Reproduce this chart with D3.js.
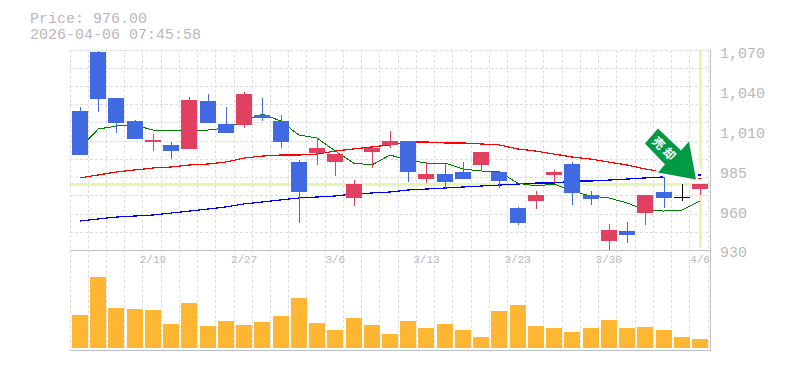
<!DOCTYPE html>
<html>
<head>
<meta charset="utf-8">
<style>
body { margin: 0; background: #fff; }
svg { display: block; }
text { font-family: "Liberation Mono", monospace; fill: #b8b8b8; }
</style>
<script src="https://cdn.jsdelivr.net/npm/d3@7"></script>
</head>
<body>
<div id="chart"></div>
<script>
var dates = ["2/13","2/16","2/17","2/18","2/19","2/20","2/24","2/25","2/26","2/27","3/2","3/3","3/4","3/5","3/6","3/9","3/10","3/11","3/12","3/13","3/16","3/17","3/18","3/19","3/23","3/24","3/25","3/26","3/27","3/30","3/31","4/1","4/2","4/3","4/6"];
var opens = [1027.8,1069.3,1036.9,1020.8,1006,1003.9,1001.1,1034.8,1018.6,1017.9,1025,1020.8,991.9,998.2,991.9,966.6,998.9,1003.9,1006.7,980,983.5,984.9,989.8,984.9,959.5,964.5,982.8,990.5,968.7,936.3,943.4,956,970.8,967.3,972.9];
var closes = [996.8,1036.2,1019.3,1008.1,1007.4,999.6,1035.5,1019.3,1012.3,1039.8,1022.9,1006,970.8,1001.8,997.5,976.4,1001.8,1006.7,984.9,983.5,977.8,980,998.9,978.5,949,968.7,984.9,970.1,965.9,944.1,940.6,968.7,966.6,967.3,976];
var highs = [1030.6,1070,1036.9,1021.5,1011.6,1006,1037.6,1039.8,1030.6,1041.2,1036.9,1025,993.3,1008.8,997.5,979.2,1002.5,1013.7,1006.7,991.9,990.5,991.9,998.9,984.9,960.3,971.5,986.3,991.9,971.5,948.3,949.7,968.7,981.4,976.4,976];
var lows = [996.8,1027.1,1012.3,1008.1,999.6,994,1001.1,1019.3,1012.3,1015.8,1020.8,1001.8,949,989.8,982.1,961,987.7,1001.8,977.8,977.1,972.9,980,985.6,973.6,947.6,958.8,977.1,961.7,961.7,930,934.9,947.6,959.5,964.5,968.7];
var volumes = [33,71,40,39,38,24,45,22,27,23,26,32,50,25,18,30,23,14,27,20,24,18,11,37,43,22,20,16,20,28,20,21,18,11,9];
var maShort = [1001.8,1015.1,1017.2,1017.9,1014.4,1014.4,1014.4,1014.4,1015.8,1020.8,1025.7,1020.8,1010.9,1008.8,999.6,991.2,989.8,996.8,993.3,991.2,991.2,987,985.6,984.9,977.1,975,976.4,971.5,968,966.6,963.1,958.1,957.4,958.1,964.5];
var maMid = [980.7,982.8,984.9,986.3,987.7,988.4,989.8,990.5,991.9,994.7,996.1,996.8,996.8,997.5,999.6,1001.1,1002.5,1003.9,1006,1006,1005.3,1005.3,1004.6,1003.9,1001.1,999.6,997.5,995.4,994,991.9,989.8,987,984.9,982.1,980];
var maLong = [950.4,951.8,953.2,953.9,954.6,956,957.4,958.8,960.3,962.4,963.8,965.2,966.6,967.3,968,969.4,970.1,970.8,972.2,972.9,973.6,974.3,975,975.7,976.4,977.1,977.1,978.5,978.5,979.2,979.9,980.7,981.4,982.1,982.8];
var priceTicks = [1070,1042,1014,986,958,930];
var priceLabels = ["1,070","1,040","1,010","985","960","930"];
var dateTicks = ["2/19","2/27","3/6","3/13","3/23","3/30","4/6"];
var lastPrice = 976;
var headerLines = ["Price: 976.00","2026-04-06 07:45:58"];
var arrowLabel = "売却";

var width = 785, height = 370;
var left = 70, right = 710, top1 = 50, bottom1 = 250, bottom2 = 350;

var svg = d3.select("#chart").append("svg").attr("width", width).attr("height", height);

//Scales
var x = d3.scaleBand().domain(dates).range([70.88, 709.11]);
var y = d3.scaleLinear().domain([930, 1070]).range([250, 51]);
var yVol = d3.scaleLinear().domain([0, 98]).range([348, 250]);
var gridX = d3.scaleLinear().domain([0, 35]).range([70, 708.05]);
var gridY = d3.scaleLinear().domain([0, 11]).range([50, 250.53]);

//Pixel snapped position of a price
function py(v) { return Math.round(y(v) - 0.3); }
function barLeft(d) { return Math.round(x(d) + (x.step() - 16) / 2); }

//Grid
var grid = svg.append("g").attr("stroke", "#dedede").attr("stroke-dasharray", "3,2").attr("shape-rendering", "crispEdges");
grid.selectAll("line.v")
  .data(d3.range(0, 36))
  .enter().append("line").attr("class", "v")
  .attr("x1", function(d){return Math.floor(gridX(d)) + 0.5;})
  .attr("x2", function(d){return Math.floor(gridX(d)) + 0.5;})
  .attr("y1", top1).attr("y2", bottom2);
grid.selectAll("line.h")
  .data(d3.range(0, 11))
  .enter().append("line").attr("class", "h")
  .attr("x1", left).attr("x2", right)
  .attr("y1", function(d){return Math.floor(gridY(d)) + 0.5;})
  .attr("y2", function(d){return Math.floor(gridY(d)) + 0.5;});

//Frame
var frame = svg.append("g").attr("stroke", "#c0c0c0").attr("shape-rendering", "crispEdges");
frame.append("line").attr("x1", left).attr("x2", right + 1).attr("y1", bottom1 + 0.5).attr("y2", bottom1 + 0.5);
frame.append("line").attr("x1", left).attr("x2", right + 1).attr("y1", bottom2 + 0.5).attr("y2", bottom2 + 0.5);
frame.append("line").attr("x1", right + 0.5).attr("x2", right + 0.5).attr("y1", top1).attr("y2", bottom2 + 1);

//Current price cross
var lastDate = dates[dates.length - 1];
svg.append("rect").attr("x", left).attr("width", right - left).attr("y", py(lastPrice) - 1).attr("height", 3).attr("fill", "#e6f5b0");
svg.append("rect").attr("x", barLeft(lastDate) + 7).attr("width", 3).attr("y", top1).attr("height", 198).attr("fill", "#e6f5b0");

//Moving averages
var line = d3.line()
  .x(function(d,i){return x(dates[i]) + x.step() / 2;})
  .y(function(d){return y(d);});
function drawAverages(parent) {
  var g = parent.append("g").attr("fill", "none").attr("shape-rendering", "crispEdges");
  g.append("path").attr("d", line(maLong)).attr("stroke", "#0000ff").attr("stroke-width", 1.2);
  g.append("path").attr("d", line(maMid)).attr("stroke", "#ff0000").attr("stroke-width", 1.2);
  g.append("path").attr("d", line(maShort)).attr("stroke", "#008000").attr("stroke-width", 1);
  return g;
}
drawAverages(svg);

//The arrow picture has a white edge under it, this hides what is behind
var tipX = x(lastDate) + x.step() / 2 - 4, tipY = y(lastPrice) - 5;
svg.append("polygon")
  .attr("transform", "translate(" + tipX + "," + tipY + ")")
  .attr("points", "-41,-10 -32,-2 -32,3.4 6,3.4 6,-8 -7,-38")
  .attr("fill", "#ffffff");

//Only the ends of the long and mid averages come out from under that edge
svg.append("clipPath").attr("id", "line-ends").append("rect")
  .attr("x", tipX + 2).attr("width", 3).attr("y", tipY - 8).attr("height", 12);
var lineEnds = drawAverages(svg).attr("clip-path", "url(#line-ends)").attr("stroke-linecap", "square");
lineEnds.selectAll("path").filter(function(d,i){return i == 2;}).remove();

//Candles
function candleColor(i) {
  if (opens[i] == closes[i]) return "#000000";
  return closes[i] > opens[i] ? "#e24060" : "#4169e1";
}
var candles = svg.append("g").attr("shape-rendering", "crispEdges");
candles.selectAll("rect.wick")
  .data(dates)
  .enter().append("rect").attr("class", "wick")
  .attr("x", function(d){return barLeft(d) + 8;})
  .attr("width", 1)
  .attr("y", function(d,i){return py(highs[i]);})
  .attr("height", function(d,i){return py(lows[i]) - py(highs[i]);})
  .attr("fill", function(d,i){return candleColor(i);});
candles.selectAll("rect.body")
  .data(dates)
  .enter().append("rect").attr("class", "body")
  .attr("x", function(d){return barLeft(d);})
  .attr("width", 16)
  .attr("y", function(d,i){return py(Math.max(opens[i], closes[i]));})
  .attr("height", function(d,i){return Math.max(1, py(Math.min(opens[i], closes[i])) - py(Math.max(opens[i], closes[i])));})
  .attr("fill", function(d,i){return candleColor(i);});

//Volume
svg.append("g").attr("shape-rendering", "crispEdges").selectAll("rect")
  .data(volumes)
  .enter().append("rect")
  .attr("x", function(d,i){return barLeft(dates[i]);})
  .attr("width", 16)
  .attr("y", function(d){return yVol(d);})
  .attr("height", function(d){return yVol(0) - yVol(d);})
  .attr("fill", "#ffb733");

//Signal arrow, tip sits just above the last price
var arrow = svg.append("g").attr("transform", "translate(" + tipX + "," + tipY + ")");
arrow.append("polygon")
  .attr("points", "-38,-51 -15,-29 -7,-38 0,0 -38,-7 -31,-15 -51,-36")
  .attr("fill", "#009944");
arrow.append("text")
  .attr("transform", "translate(-31,-30) rotate(45)")
  .attr("text-anchor", "middle").attr("dy", "0.36em")
  .style("font-family", "'Noto Sans CJK JP'").style("font-size", "12px").style("font-weight", "700").style("fill", "#fff")
  .attr("letter-spacing", "3")
  .text(arrowLabel);

//Axes
var yAxis = d3.axisRight(y).tickValues(priceTicks).tickSize(0).tickPadding(10)
  .tickFormat(function(d,i){return priceLabels[i];});
var gy = svg.append("g").attr("transform", "translate(" + right + ",2)").call(yAxis);
gy.select(".domain").remove();
gy.selectAll("text").style("font-size", "15px").style("fill", "#b8b8b8").style("font-family", "'Liberation Mono', monospace");

var xAxis = d3.axisBottom(x).tickValues(dateTicks).tickSize(0).tickPadding(5);
var gx = svg.append("g").attr("transform", "translate(0," + bottom1 + ")").call(xAxis);
gx.select(".domain").remove();
gx.selectAll("text").style("font-size", "11px").style("fill", "#b8b8b8").style("font-family", "'Liberation Mono', monospace");

//Header
svg.selectAll("text.header")
  .data(headerLines)
  .enter().append("text").attr("class", "header")
  .attr("x", 30)
  .attr("y", function(d,i){return 23 + i * 16;})
  .style("font-size", "15px")
  .text(function(d){return d;});
</script>
</body>
</html>
